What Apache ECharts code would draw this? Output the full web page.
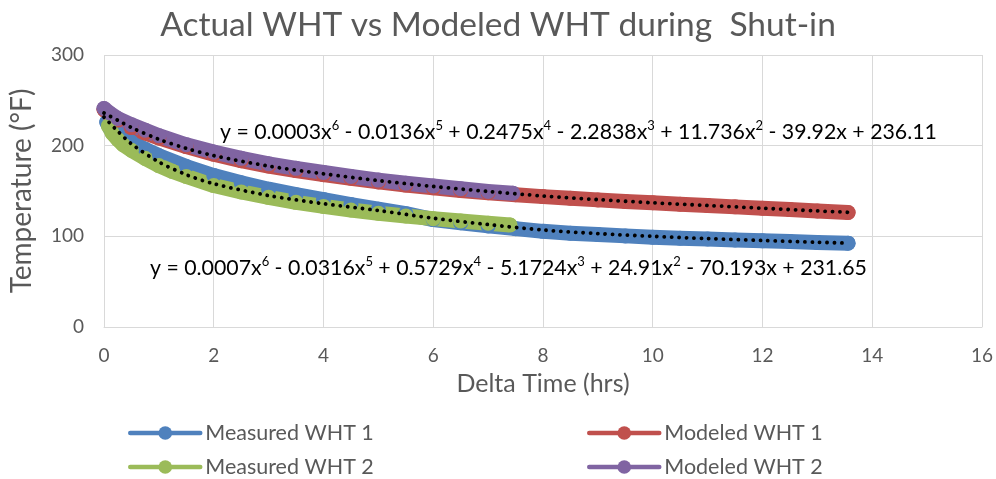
<!DOCTYPE html>
<html>
<head>
<meta charset="utf-8">
<title>Actual WHT vs Modeled WHT</title>
<script src="https://cdn.jsdelivr.net/npm/echarts@6/dist/echarts.min.js"></script>
<style>
    html, body { margin: 0; padding: 0; background: #fff; }
    #chart { width: 996px; height: 479px; }
</style>
</head>
<body>
<div id="chart"></div>
<script>
// hours since shut-in and wellhead temperature (°F)
var modeledTime1 = [0, 0.1, 0.25, 0.5, 0.75, 1, 1.5, 2, 2.5, 3, 3.5, 4, 4.5, 5, 5.5, 6, 6.5, 7, 7.5, 8, 8.5, 9, 9.5, 10, 10.5, 11, 11.5, 12, 12.5, 13, 13.56];
var modeledWht1  = [240, 234, 228, 220, 214, 208.5, 199, 190.5, 183.5, 177.5, 172.5, 168, 164, 160, 156.5, 153.5, 150.5, 148, 145.8, 143.8, 142, 140.2, 138.5, 137, 135.5, 134, 132.5, 131, 129.5, 128, 126.3];

var modeledTime2 = [0, 0.1, 0.25, 0.5, 0.75, 1, 1.5, 2, 2.5, 3, 3.5, 4, 4.5, 5, 5.5, 6, 6.5, 7, 7.45];
var modeledWht2  = [241, 236, 230, 223, 217, 211, 201, 193, 186, 180, 175, 170.5, 166, 162, 158.5, 155.5, 152.5, 149.5, 147.5];

var measuredTime1 = [0.05, 0.1, 0.25, 0.5, 0.75, 1, 1.5, 2, 2.5, 3, 3.5, 4, 4.5, 5, 5.5, 6, 6.5, 7, 7.5, 8, 8.5, 9, 9.5, 10, 10.5, 11, 11.5, 12, 12.5, 13, 13.56];
var measuredWht1  = [226, 221, 213, 204, 196, 189, 177, 167, 159, 152, 146, 140.5, 135, 130, 125, 118.5, 115, 111.5, 108.5, 105.5, 103.5, 102, 100.5, 99, 98, 97, 96, 95, 94.2, 93.3, 92.5];

var measuredTime2 = [0.08, 0.15, 0.25, 0.35, 0.5, 0.75, 1, 1.25, 1.5, 2, 2.5, 3, 3.5, 4, 4.5, 5, 5.5, 6, 6.5, 7, 7.4];
var measuredWht2  = [222, 214, 207, 201, 195, 186, 178, 171.5, 166, 156, 149, 143, 137.5, 133, 129, 125.5, 122.5, 119.5, 117, 114.5, 112.5];

// polynomial trendlines as drawn (dotted)
var trendTime = [0, 0.25, 0.5, 1, 1.5, 2, 3, 4, 5, 6, 7, 8, 9, 10, 11, 12, 13, 13.56];
var trendModeled  = [236, 228, 220, 207, 197, 189, 177.5, 169, 161.5, 155, 149.5, 144.5, 140.5, 137, 134, 131, 128, 126.5];
var trendMeasured = [231.5, 216, 202, 182, 168, 158, 145, 136, 128.5, 120, 113, 107, 103, 100, 97.5, 95.5, 93.5, 92.5];

var eqModeled  = ['y = 0.0003x', '6', ' - 0.0136x', '5', ' + 0.2475x', '4', ' - 2.2838x', '3', ' + 11.736x', '2', ' - 39.92x + 236.11'];
var eqMeasured = ['y = 0.0007x', '6', ' - 0.0316x', '5', ' + 0.5729x', '4', ' - 5.1724x', '3', ' + 24.91x', '2', ' - 70.193x + 231.65'];

var FONT = 'Lato';
var GREY = '#595959';

function zip(xs, ys) {
    var out = [];
    for (var i = 0; i < xs.length; i++) {
        out.push([xs[i], ys[i]]);
    }
    return out;
}

// odd pieces are exponents
function richEq(parts) {
    var s = '';
    for (var i = 0; i < parts.length; i++) {
        s += (i % 2 ? '{s|' : '{a|') + parts[i] + '}';
    }
    return s;
}

function dataSeries(name, color, xs, ys) {
    return {
        name: name,
        type: 'line',
        data: zip(xs, ys),
        symbol: 'circle',
        symbolSize: 15,
        itemStyle: { color: color, borderWidth: 0 },
        lineStyle: { color: color, width: 15, cap: 'round', join: 'round' },
        emphasis: { disabled: true },
        silent: true
    };
}

var eqRich = {
    a: { fontFamily: FONT, fontSize: 21.3, color: GREY, lineHeight: 26 },
    s: { fontFamily: FONT, fontSize: 13, color: GREY, lineHeight: 26, verticalAlign: 'top', padding: [0, 0, 9, 0] }
};

// one legend per cell so the two columns line up
function legendCell(name, left, top) {
    return {
        data: [name],
        left: left,
        top: top,
        padding: 0,
        itemWidth: 70,
        itemHeight: 17,
        itemGap: 0,
        lineStyle: { width: 4.5 },
        textStyle: { fontFamily: FONT, fontSize: 21.5, color: GREY },
        selectedMode: false
    };
}

var chart = echarts.init(document.getElementById('chart'));

var option = {
    animation: false,
    backgroundColor: '#fff',
    title: {
        text: 'Actual WHT vs Modeled WHT during  Shut-in',
        left: 'center',
        top: 3,
        textStyle: { fontFamily: FONT, fontSize: 33.5, fontWeight: 'normal', color: GREY }
    },
    legend: [
        legendCell('Measured WHT 1', 128, 422),
        legendCell('Modeled WHT 1', 587, 422),
        legendCell('Measured WHT 2', 128, 456),
        legendCell('Modeled WHT 2', 587, 456)
    ],
    grid: { left: 103, right: 13, top: 55, bottom: 152 },
    xAxis: {
        type: 'value',
        min: 0,
        max: 16,
        interval: 2,
        name: 'Delta Time (hrs)',
        nameLocation: 'middle',
        nameGap: 44,
        nameTextStyle: { fontFamily: FONT, fontSize: 25, color: GREY },
        axisLine: { show: true, lineStyle: { color: '#d9d9d9', width: 1 } },
        axisTick: { show: false },
        axisLabel: { fontFamily: FONT, fontSize: 19, color: GREY, margin: 19 },
        splitLine: { show: true, lineStyle: { color: '#d9d9d9', width: 1 } }
    },
    yAxis: {
        type: 'value',
        min: 0,
        max: 300,
        interval: 100,
        name: 'Temperature (°F)',
        nameLocation: 'middle',
        nameGap: 68,
        nameTextStyle: { fontFamily: FONT, fontSize: 28, color: GREY },
        axisLine: { show: false },
        axisTick: { show: false },
        axisLabel: { fontFamily: FONT, fontSize: 19, color: GREY, margin: 20 },
        splitLine: { show: true, lineStyle: { color: '#d9d9d9', width: 1 } }
    },
    series: [
        dataSeries('Measured WHT 1', '#4F81BD', measuredTime1, measuredWht1),
        dataSeries('Modeled WHT 1', '#C0504D', modeledTime1, modeledWht1),
        dataSeries('Measured WHT 2', '#9BBB59', measuredTime2, measuredWht2),
        dataSeries('Modeled WHT 2', '#8064A2', modeledTime2, modeledWht2)
    ]
};

chart.setOption(option);

// dotted trendlines: the line series breaks the dot rhythm, so map the
// trend points through the grid scales and draw one polyline each
function trendLine(xs, ys) {
    var points = zip(xs, ys).map(function (p) {
        return chart.convertToPixel({ gridIndex: 0 }, p);
    });
    return {
        type: 'polyline',
        z: 10,
        silent: true,
        shape: { points: points, smooth: 0.3 },
        style: { stroke: '#000', fill: 'none', lineWidth: 3.8, lineDash: [0.1, 7.3], lineCap: 'round' }
    };
}

chart.setOption({
    graphic: [
        trendLine(trendTime, trendModeled),
        trendLine(trendTime, trendMeasured),
        {
            type: 'text',
            left: 220,
            top: 119,
            z: 11,
            style: { text: richEq(eqModeled), rich: eqRich }
        },
        {
            type: 'text',
            left: 150,
            top: 255,
            z: 11,
            style: { text: richEq(eqMeasured), rich: eqRich }
        }
    ]
});
</script>
</body>
</html>
